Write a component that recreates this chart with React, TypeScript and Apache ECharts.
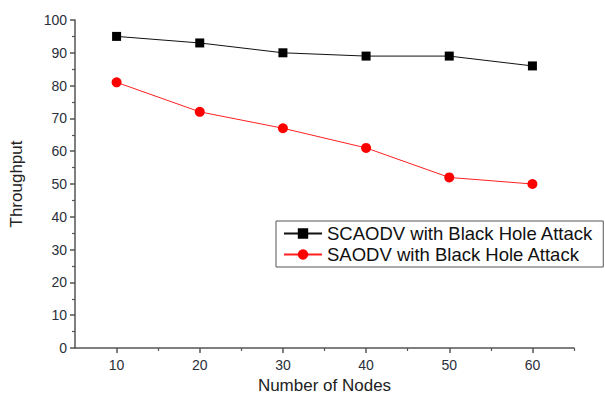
import React, { useEffect, useRef } from "react";
import * as echarts from "echarts";

const nodes = [10, 20, 30, 40, 50, 60];
const scaodv = [95, 93, 90, 89, 89, 86];
const saodv = [81, 72, 67, 61, 52, 50];
const seriesNames = ["SCAODV with Black Hole Attack", "SAODV with Black Hole Attack"];
const xMajorTicks = [10, 20, 30, 40, 50, 60];
const xMinorTicks = [15, 25, 35, 45, 55, 65];

export default function App() {
  const ref = useRef<HTMLDivElement>(null);
  useEffect(() => {
    if (!ref.current) return;
    const chart = echarts.init(ref.current, null, { renderer: "svg" });
    const font = "Liberation Sans, Arial, sans-serif";
    const axisColor = "#555";
    chart.setOption({
      animation: false,
      backgroundColor: "#fff",
      grid: { left: 75, right: 31, top: 20, bottom: 48, containLabel: false, outerBoundsMode: "none" },
      legend: {
        orient: "vertical",
        left: 276,
        top: 221,
        width: 327,
        padding: [3, 10, 3, 7],
        borderColor: axisColor,
        borderWidth: 1,
        itemGap: 2,
        itemWidth: 38,
        itemHeight: 13,
        textStyle: { fontFamily: font, fontSize: 18.5, color: "#111" },
        data: seriesNames,
      },
      xAxis: [
        {
          type: "value",
          min: 5,
          max: 65,
          name: "Number of Nodes",
          nameLocation: "middle",
          nameGap: 28,
          nameTextStyle: { fontFamily: font, fontSize: 17, color: "#222" },
          axisLine: { show: true, onZero: false, lineStyle: { color: axisColor, width: 1.5 } },
          axisTick: { show: true, length: 5, customValues: xMajorTicks, lineStyle: { color: axisColor, width: 1.5 } },
          axisLabel: { show: true, customValues: xMajorTicks, fontFamily: font, fontSize: 14, color: "#2a2f3a", margin: 10 },
          splitLine: { show: false },
        },
        {
          type: "value",
          min: 5,
          max: 65,
          position: "bottom",
          axisLine: { show: false },
          axisTick: { show: true, length: 3, customValues: xMinorTicks, lineStyle: { color: axisColor, width: 1.2 } },
          axisLabel: { show: false },
          splitLine: { show: false },
        },
      ],
      yAxis: {
        type: "value",
        min: 0,
        max: 100,
        interval: 10,
        name: "Throughput",
        nameLocation: "middle",
        nameGap: 50,
        nameTextStyle: { fontFamily: font, fontSize: 17, color: "#222" },
        axisLine: { show: true, lineStyle: { color: axisColor, width: 1.5 } },
        axisTick: { show: true, length: 5, lineStyle: { color: axisColor, width: 1.5 } },
        minorTick: { show: true, splitNumber: 2, length: 3, lineStyle: { color: axisColor, width: 1.2 } },
        axisLabel: { fontFamily: font, fontSize: 14, color: "#2a2f3a", margin: 8 },
        splitLine: { show: false },
      },
      series: [
        {
          name: seriesNames[0],
          type: "line",
          data: nodes.map((n, i) => [n, scaodv[i]]),
          symbol: "rect",
          symbolSize: 9,
          color: "#000",
          lineStyle: { color: "#111", width: 1 },
          itemStyle: { color: "#000" },
        },
        {
          name: seriesNames[1],
          type: "line",
          data: nodes.map((n, i) => [n, saodv[i]]),
          symbol: "circle",
          symbolSize: 10,
          color: "#ff0000",
          lineStyle: { color: "#ff2020", width: 1 },
          itemStyle: { color: "#ff0000" },
        },
      ],
    });
    return () => chart.dispose();
  }, []);
  return <div ref={ref} style={{ width: 605, height: 396, position: "absolute", left: 0, top: 0 }} />;
}
